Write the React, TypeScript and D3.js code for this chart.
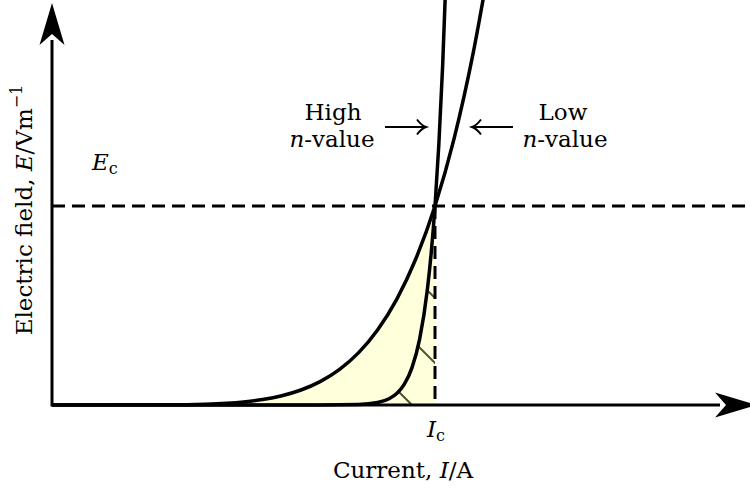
import React from "react";
import * as d3 from "d3";

// Normalised current I/Ic and field E/Ec
const currentLow = [0, 0.3, 0.4, 0.5, 0.55, 0.6, 0.65, 0.7, 0.75, 0.8, 0.85, 0.9, 0.95, 1.0, 1.05, 1.1, 1.14];
const fieldLow = [0, 0.0007, 0.0041, 0.0156, 0.0277, 0.0467, 0.0754, 0.1176, 0.178, 0.262, 0.377, 0.531, 0.735, 1.0, 1.34, 1.772, 2.195];
const currentHigh = [0, 0.7, 0.8, 0.85, 0.88, 0.9, 0.92, 0.94, 0.96, 0.98, 0.99, 1.0, 1.01, 1.02, 1.03];
const fieldHigh = [0, 0.0001, 0.0024, 0.0124, 0.0317, 0.0581, 0.1053, 0.1881, 0.3322, 0.5795, 0.7623, 1.0, 1.308, 1.707, 2.221];
const criticalCurrent = 1;
const criticalField = 1;

const xLabel = "Current, ";
const yLabel = "Electric field, ";

type P = [number, number];

export default function App() {
  const W = 750;
  const H = 489;
  const x = d3.scaleLinear().domain([0, criticalCurrent]).range([52, 435]);
  const y = d3.scaleLinear().domain([0, criticalField]).range([405, 206]);

  const lowPts: P[] = currentLow.map((c, i) => [c, fieldLow[i]]);
  const highPts: P[] = currentHigh.map((c, i) => [c, fieldHigh[i]]);

  const line = d3
    .line<P>()
    .x((d) => x(d[0]))
    .y((d) => y(d[1]))
    .curve(d3.curveMonotoneX);
  const area = d3
    .area<P>()
    .x((d) => x(d[0]))
    .y0(y(0))
    .y1((d) => y(d[1]))
    .curve(d3.curveMonotoneX);

  const lowFill = lowPts.filter((d) => d[0] <= criticalCurrent);
  const highFill = highPts.filter((d) => d[0] <= criticalCurrent);

  const ox = x(0);
  const oy = y(0);
  const font = "'DejaVu Serif', serif";
  const fs = 23;

  const arrowY = (tipX: number, tipY: number) =>
    `M${tipX},${tipY} L${tipX + 12.5},${tipY + 42} L${tipX},${tipY + 31} L${tipX - 12.5},${tipY + 42} Z`;
  const arrowX = (tipX: number, tipY: number) =>
    `M${tipX},${tipY} L${tipX - 42},${tipY - 12.5} L${tipX - 31},${tipY} L${tipX - 42},${tipY + 12.5} Z`;

  return (
    <svg
      width={W}
      height={H}
      style={{ position: "absolute", left: 0, top: 0, background: "#fff" }}
      fontFamily={font}
      fontSize={fs}
    >
      <defs>
        <pattern id="hatch" patternUnits="userSpaceOnUse" x={0} y={58} width={65} height={65}>
          <path d="M-5,-5 L70,70" stroke="#4f4f33" strokeWidth={2} />
        </pattern>
      </defs>

      {/* fills */}
      <path d={area(lowFill) || ""} fill="#ffffdc" stroke="none" />
      <path d={area(highFill) || ""} fill="url(#hatch)" stroke="none" />

      {/* dashed critical lines */}
      <line x1={ox} y1={y(criticalField)} x2={W} y2={y(criticalField)} stroke="#000" strokeWidth={3} strokeDasharray="13 7" />
      <line x1={x(criticalCurrent)} y1={y(criticalField)} x2={x(criticalCurrent)} y2={oy} stroke="#000" strokeWidth={3} strokeDasharray="13 7" />

      {/* curves */}
      <path d={line(lowPts) || ""} fill="none" stroke="#000" strokeWidth={3.5} />
      <path d={line(highPts) || ""} fill="none" stroke="#000" strokeWidth={3.5} />

      {/* axes */}
      <path d={`M${ox},40 L${ox},${oy} L${W - 30},${oy}`} fill="none" stroke="#000" strokeWidth={3} strokeLinejoin="miter" />
      <path d={arrowY(ox, 3)} fill="#000" />
      <path d={arrowX(W + 7, oy)} fill="#000" />

      {/* annotation arrows */}
      <path d="M385,127 L425,127 M417,119.5 C420,123.5 423,126 426,127 C423,128 420,130.5 417,134.5" fill="none" stroke="#000" strokeWidth={2} />
      <path d="M513,127 L473,127 M481,119.5 C478,123.5 475,126 472,127 C475,128 478,130.5 481,134.5" fill="none" stroke="#000" strokeWidth={2} />

      {/* annotation texts */}
      <text x={333} y={120} textAnchor="middle">High</text>
      <text x={332} y={147} textAnchor="middle">
        <tspan fontStyle="italic">n</tspan>-value
      </text>
      <text x={563} y={120} textAnchor="middle">Low</text>
      <text x={565} y={147} textAnchor="middle">
        <tspan fontStyle="italic">n</tspan>-value
      </text>

      <text x={92} y={170}>
        <tspan fontStyle="italic">E</tspan>
        <tspan fontSize={16} dy={4}>c</tspan>
      </text>
      <text x={427} y={437}>
        <tspan fontStyle="italic">I</tspan>
        <tspan fontSize={16} dy={4}>c</tspan>
      </text>

      <text x={403} y={478} textAnchor="middle">
        {xLabel}
        <tspan fontStyle="italic">I</tspan>/A
      </text>

      <text transform="translate(32,210) rotate(-90)" textAnchor="middle">
        {yLabel}
        <tspan fontStyle="italic">E</tspan>/Vm
        <tspan fontSize={16} dy={-10}>−1</tspan>
      </text>
    </svg>
  );
}
